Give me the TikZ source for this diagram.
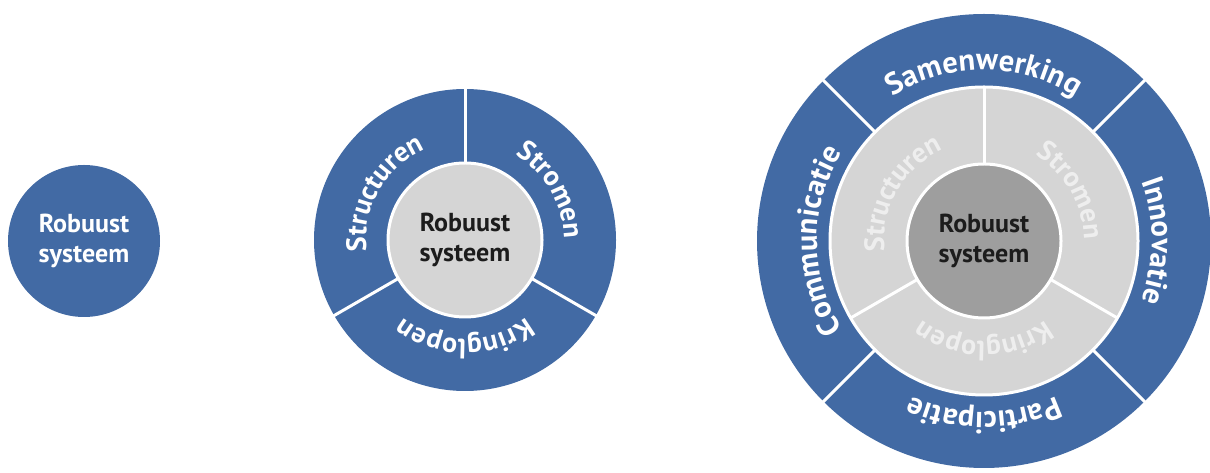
\documentclass[tikz,border=0pt]{standalone}
\usepackage{fontspec}
\setmainfont{PT Sans}
\usetikzlibrary{calc,decorations.text}
\definecolor{ringblue}{RGB}{66,106,164}
\definecolor{ringgray}{RGB}{213,213,213}
\definecolor{hubgray}{RGB}{158,158,158}
\definecolor{fadetext}{RGB}{238,238,238}
\definecolor{hubtext}{RGB}{28,28,28}
\newcommand{\hubfont}{\bfseries\fontsize{26}{30}\selectfont}
\newcommand{\ringfont}{\bfseries\fontsize{28}{28}\selectfont}
\newcommand{\outerfont}{\bfseries\fontsize{30.5}{30}\selectfont}
\tikzset{
    hub/.style={circle, inner sep=0pt, align=center, font=\hubfont, text=hubtext},
    hubring/.style={hub, draw=white, line width=3pt},
    divider/.style={draw=white, line width=3pt},
    arclabel/.style={decorate, decoration={text along path, text align=center, text color=white}},
}

\begin{document}
\begin{tikzpicture}[x=1pt, y=1pt]
    \useasboundingbox (0,0) rectangle (1210,473);

    % system on its own
    \node[hub, fill=ringblue, text=white, minimum size=152pt] (sys1) at (84,232) {Robuust\\systeem};

    % system with structures, flows and cycles
    \coordinate (c2) at (465,233);
    \fill[ringblue] (c2) circle (151pt);
    \foreach \a in {90,-30,210}
        \draw[divider] ($(c2)+(\a:70pt)$) -- ($(c2)+(\a:153pt)$);
    \node[hubring, fill=ringgray, minimum size=154pt] (sys2) at (c2) {Robuust\\systeem};
    \path[arclabel, decoration={text={|\ringfont|Structuren}}]
        ($(c2)+(210:99pt)$) arc[start angle=210, end angle=90, radius=99pt];
    \path[arclabel, decoration={text={|\ringfont|Stromen}}]
        ($(c2)+(90:99pt)$) arc[start angle=90, end angle=-30, radius=99pt];
    \path[arclabel, decoration={text={|\ringfont|Kringlopen}}]
        ($(c2)+(-30:99pt)$) arc[start angle=-30, end angle=-150, radius=99pt];

    % full picture with the outer ring
    \coordinate (c3) at (984,232);
    \fill[ringblue] (c3) circle (227pt);
    \foreach \a in {45,135,225,315}
        \draw[divider] ($(c3)+(\a:150pt)$) -- ($(c3)+(\a:230pt)$);
    \node[hubring, fill=ringgray, minimum size=308pt] (mid3) at (c3) {};
    \foreach \a in {90,-30,210}
        \draw[divider] ($(c3)+(\a:70pt)$) -- ($(c3)+(\a:154pt)$);
    \node[hubring, fill=hubgray, minimum size=154pt] (sys3) at (c3) {Robuust\\systeem};
    \path[arclabel, decoration={text color=fadetext, text={|\ringfont|Structuren}}]
        ($(c3)+(210:100pt)$) arc[start angle=210, end angle=90, radius=100pt];
    \path[arclabel, decoration={text color=fadetext, text={|\ringfont|Stromen}}]
        ($(c3)+(90:100pt)$) arc[start angle=90, end angle=-30, radius=100pt];
    \path[arclabel, decoration={text color=fadetext, text={|\ringfont|Kringlopen}}]
        ($(c3)+(-30:100pt)$) arc[start angle=-30, end angle=-150, radius=100pt];
    \path[arclabel, decoration={text={|\outerfont|Samenwerking}}]
        ($(c3)+(135:171pt)$) arc[start angle=135, end angle=45, radius=171pt];
    \path[arclabel, decoration={text={|\outerfont|Innovatie}}]
        ($(c3)+(45:168pt)$) arc[start angle=45, end angle=-45, radius=168pt];
    \path[arclabel, decoration={text={|\outerfont|Participatie}}]
        ($(c3)+(-45:171pt)$) arc[start angle=-45, end angle=-135, radius=171pt];
    \path[arclabel, decoration={text={|\outerfont|Communicatie}}]
        ($(c3)+(225:167pt)$) arc[start angle=225, end angle=135, radius=167pt];
\end{tikzpicture}
\end{document}
